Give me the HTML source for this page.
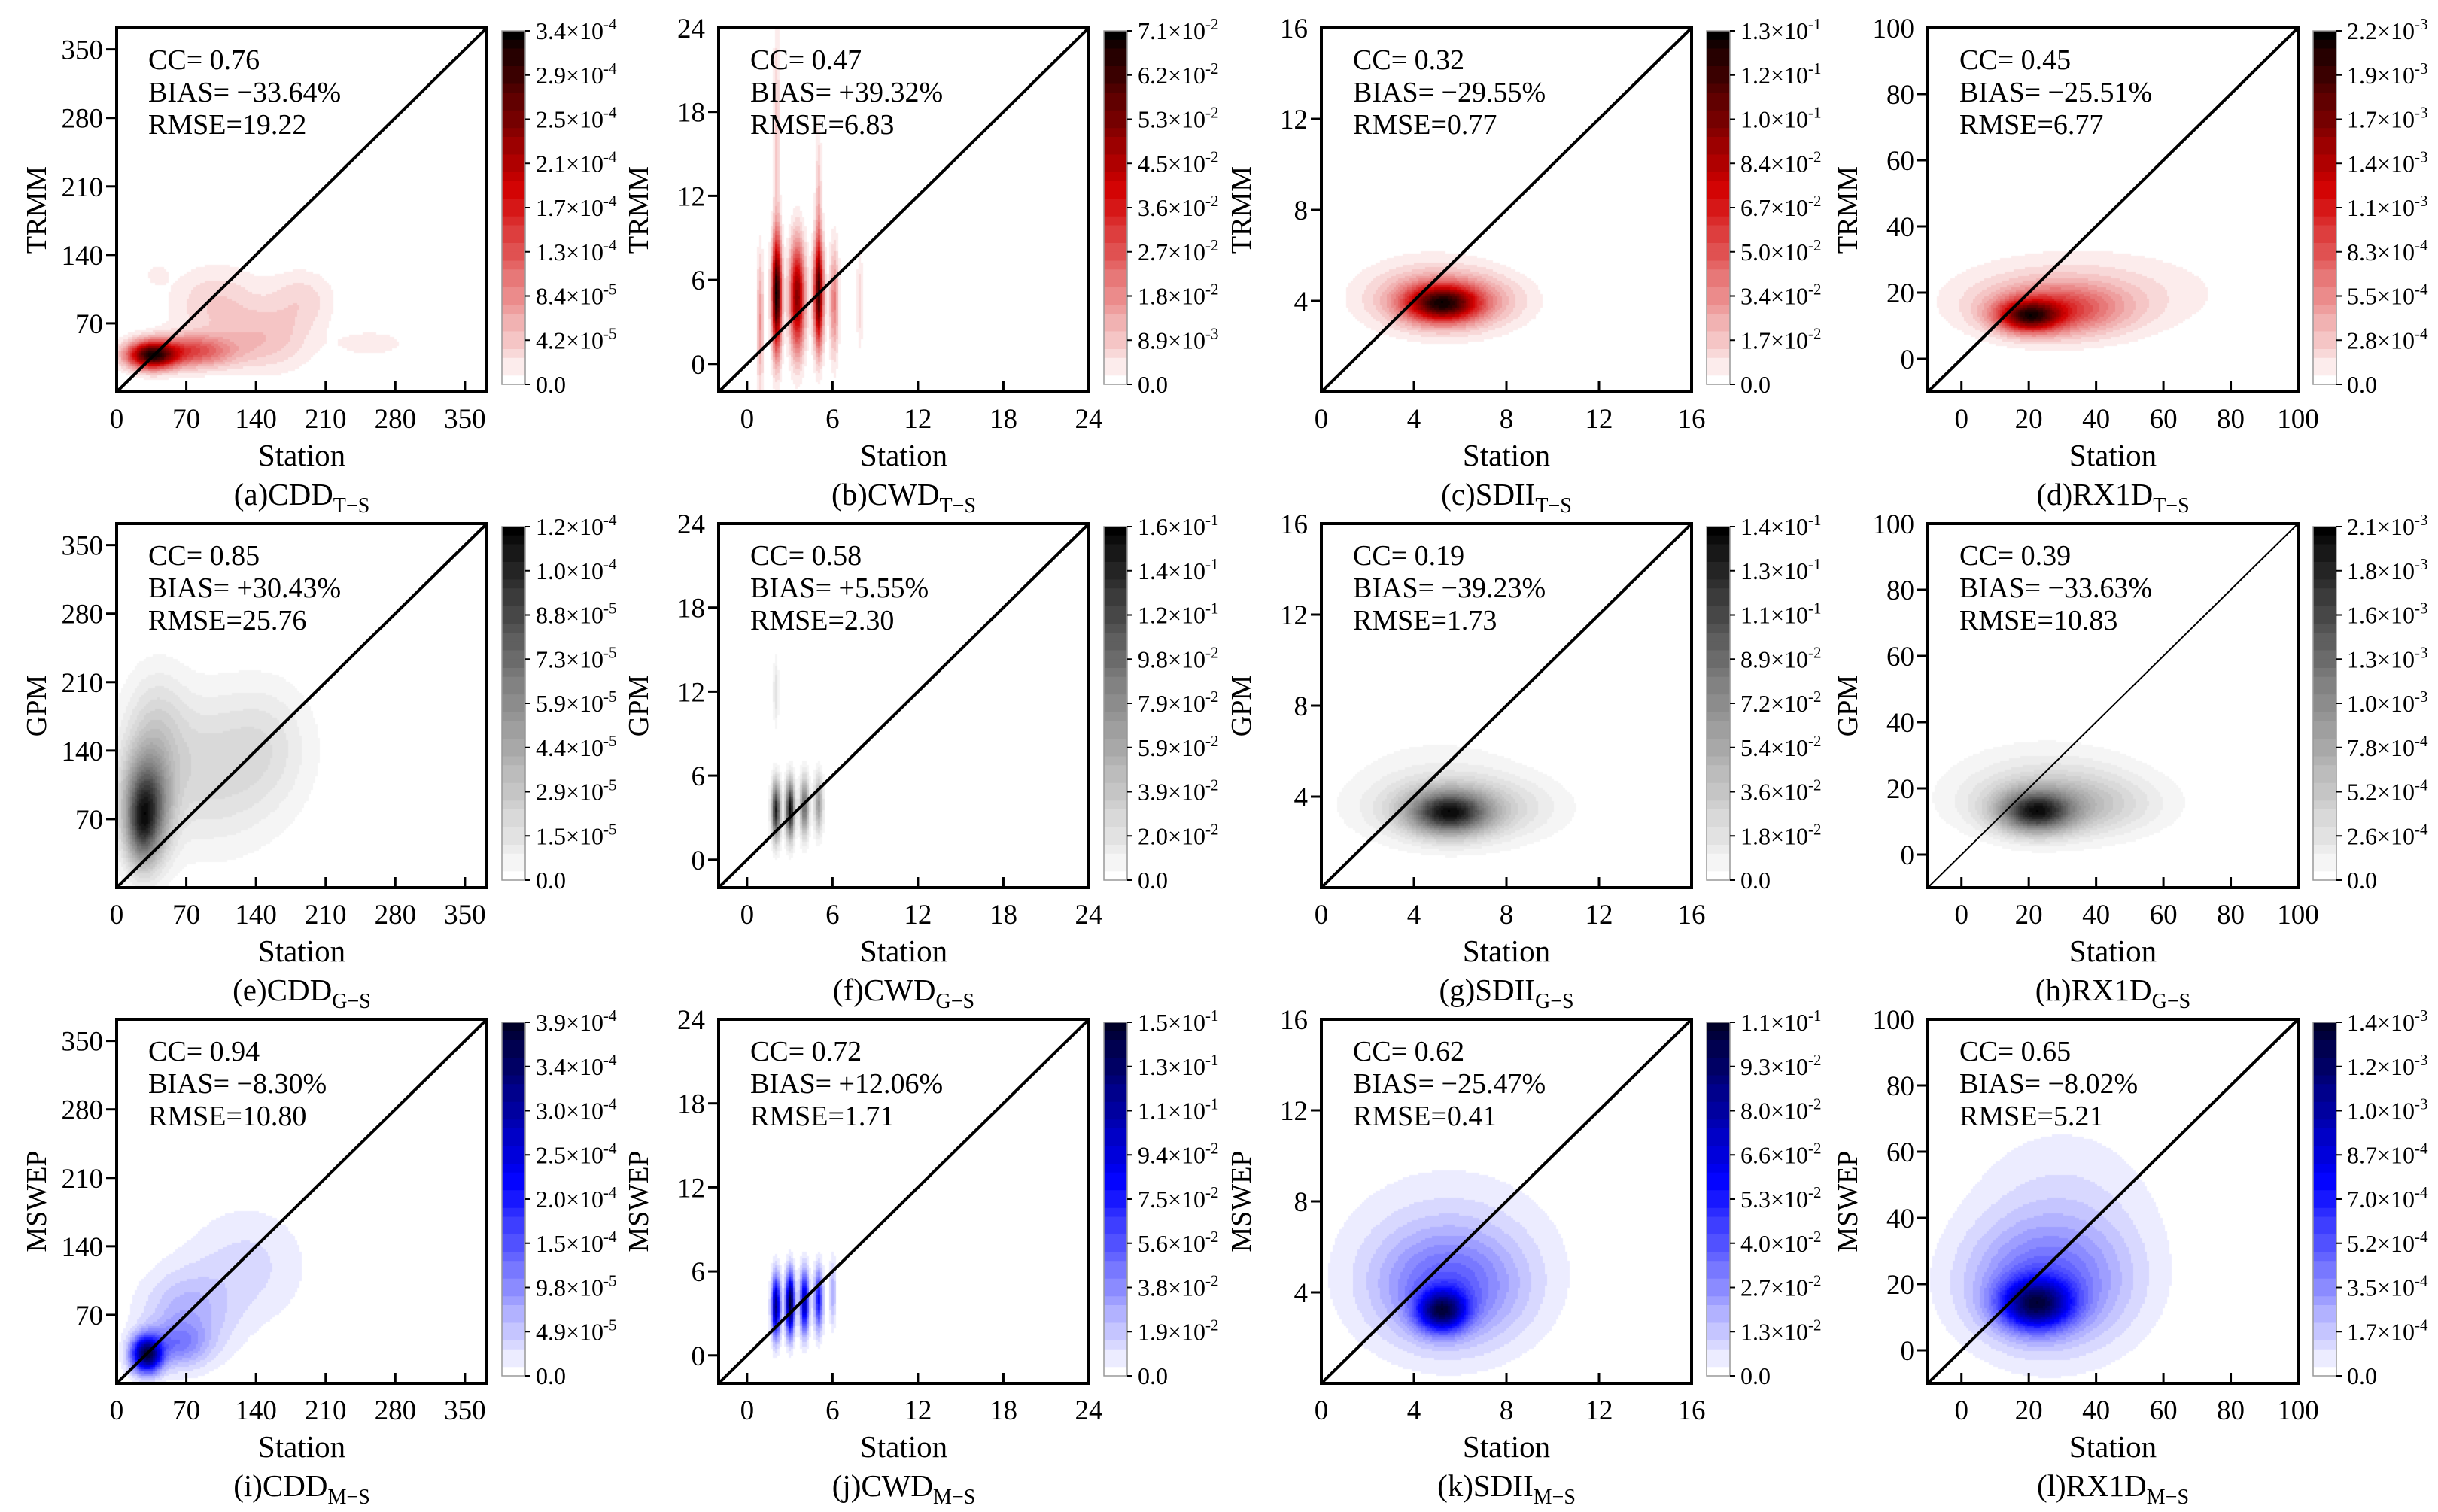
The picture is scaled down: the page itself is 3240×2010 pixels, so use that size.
<!DOCTYPE html>
<html><head><meta charset="utf-8">
<style>
html,body{margin:0;padding:0;background:#fff;}
#wrap{position:relative;width:3240px;height:2010px;overflow:hidden;font-family:"Liberation Serif",serif;}
canvas{position:absolute;}
svg{position:absolute;left:0;top:0;}
</style></head>
<body>
<div id="wrap">
<svg id="svg" width="3240" height="2010"></svg>
</div>
<script>
// ---- data arrays ----
const panelLetters = ["a","b","c","d","e","f","g","h","i","j","k","l"];
const panelIndex = ["CDD","CWD","SDII","RX1D","CDD","CWD","SDII","RX1D","CDD","CWD","SDII","RX1D"];
const panelSub = ["T−S","T−S","T−S","T−S","G−S","G−S","G−S","G−S","M−S","M−S","M−S","M−S"];
const panelYTitle = ["TRMM","TRMM","TRMM","TRMM","GPM","GPM","GPM","GPM","MSWEP","MSWEP","MSWEP","MSWEP"];
const statCC = ["0.76","0.47","0.32","0.45","0.85","0.58","0.19","0.39","0.94","0.72","0.62","0.65"];
const statBIAS = ["−33.64%","+39.32%","−29.55%","−25.51%","+30.43%","+5.55%","−39.23%","−33.63%","−8.30%","+12.06%","−25.47%","−8.02%"];
const statRMSE = ["19.22","6.83","0.77","6.77","25.76","2.30","1.73","10.83","10.80","1.71","0.41","5.21"];
const cddTicks = [0,70,140,210,280,350];
const cwdTicks = [0,6,12,18,24];
const sdiiTicks = [0,4,8,12,16];
const rx1dTicks = [0,20,40,60,80,100];
const cddRange = [0,372];
const cwdRange = [-2,24];
const sdiiRange = [0,16];
const rx1dRange = [-10,100];
// colorbar labels "mantissa|exponent"
const cbLabels = [
 ["3.4|-4","2.9|-4","2.5|-4","2.1|-4","1.7|-4","1.3|-4","8.4|-5","4.2|-5","0.0"],
 ["7.1|-2","6.2|-2","5.3|-2","4.5|-2","3.6|-2","2.7|-2","1.8|-2","8.9|-3","0.0"],
 ["1.3|-1","1.2|-1","1.0|-1","8.4|-2","6.7|-2","5.0|-2","3.4|-2","1.7|-2","0.0"],
 ["2.2|-3","1.9|-3","1.7|-3","1.4|-3","1.1|-3","8.3|-4","5.5|-4","2.8|-4","0.0"],
 ["1.2|-4","1.0|-4","8.8|-5","7.3|-5","5.9|-5","4.4|-5","2.9|-5","1.5|-5","0.0"],
 ["1.6|-1","1.4|-1","1.2|-1","9.8|-2","7.9|-2","5.9|-2","3.9|-2","2.0|-2","0.0"],
 ["1.4|-1","1.3|-1","1.1|-1","8.9|-2","7.2|-2","5.4|-2","3.6|-2","1.8|-2","0.0"],
 ["2.1|-3","1.8|-3","1.6|-3","1.3|-3","1.0|-3","7.8|-4","5.2|-4","2.6|-4","0.0"],
 ["3.9|-4","3.4|-4","3.0|-4","2.5|-4","2.0|-4","1.5|-4","9.8|-5","4.9|-5","0.0"],
 ["1.5|-1","1.3|-1","1.1|-1","9.4|-2","7.5|-2","5.6|-2","3.8|-2","1.9|-2","0.0"],
 ["1.1|-1","9.3|-2","8.0|-2","6.6|-2","5.3|-2","4.0|-2","2.7|-2","1.3|-2","0.0"],
 ["1.4|-3","1.2|-3","1.0|-3","8.7|-4","7.0|-4","5.2|-4","3.5|-4","1.7|-4","0.0"]];
// density blobs: [cx, cy, sx, sy, weight]
const blobsA = [[35,38,16,9,1],[75,42,28,11,.4],[150,55,30,22,.12],[185,95,22,20,.08],[255,50,22,8,.06],[100,90,30,25,.1],[40,120,8,8,.04]];
const blobsB = [[0.9,3,0.15,3,.2],[2.05,5,0.22,2.6,1],[2.05,16,0.15,6,.1],[3.5,4.8,0.35,2.5,.7],[5,5,0.22,2.4,.85],[5,10,0.15,4,.15],[6.1,4.5,0.2,2.5,.25],[7.9,4.5,0.15,2.2,.08]];
const blobsC = [[5.2,3.9,1.0,0.5,1],[5.5,4.0,1.8,0.8,.4],[4.5,4.5,2,1.1,.08]];
const blobsD = [[20,13,6,3,1],[28,15,13,5,.5],[35,20,24,8,.12]];
const blobsE = [[30,85,15,35,1],[25,60,10,25,.5],[90,120,50,50,.2],[150,150,30,40,.1],[40,160,20,40,.18]];
const blobsF = [[2,3.5,0.2,1.3,.9],[3,3.6,0.2,1.3,1],[4,3.8,0.2,1.3,.6],[5,4,0.2,1.3,.4],[2,12,0.12,1.5,.12]];
const blobsG = [[5.5,3.3,1.1,0.6,1],[6,3.5,2.3,0.9,.3],[5,4.5,2.5,1.5,.06]];
const blobsH = [[22,13,7,4,1],[30,15,16,6,.35],[25,22,18,8,.1]];
const blobsI = [[30,30,10,12,1],[70,70,30,30,.15],[130,120,40,40,.07],[60,40,20,15,.2]];
const blobsJ = [[2,3.5,0.2,1.4,.8],[3,3.7,0.2,1.4,1],[4,3.8,0.2,1.4,.7],[5,4,0.2,1.4,.5],[6,4.5,0.15,1.5,.15]];
const blobsK = [[5.2,3.2,0.7,0.6,1],[5.5,4.2,2.0,1.6,.35],[5.5,5.5,3,2.5,.1]];
const blobsL = [[22,14,7,5,1],[25,20,15,12,.35],[30,35,18,20,.1]];
const allBlobs = [blobsA,blobsB,blobsC,blobsD,blobsE,blobsF,blobsG,blobsH,blobsI,blobsJ,blobsK,blobsL];
// ---- layout ----
const colLeft=[155,955,1756,2562], rowTop=[37,696,1355], BW=492, BH=484;
const ranges=[cddRange,cwdRange,sdiiRange,rx1dRange];
const ticks=[cddTicks,cwdTicks,sdiiTicks,rx1dTicks];
const cmaps=[[[255,255,255],[210,0,0],[0,0,0]],[[255,255,255],[128,128,128],[0,0,0]],[[255,255,255],[0,0,255],[0,0,40]]];
const NS="http://www.w3.org/2000/svg";
const svg=document.getElementById('svg');
const wrap=document.getElementById('wrap');
function mk(tag,attrs,parent){const e=document.createElementNS(NS,tag);for(const k in attrs)e.setAttribute(k,attrs[k]);(parent||svg).appendChild(e);return e;}
function cmap(row,t){const c=cmaps[row];let a,b,u;if(t<0.55){a=c[0];b=c[1];u=t/0.55;}else{a=c[1];b=c[2];u=(t-0.55)/0.45;}return a.map((v,i)=>Math.round(v+(b[i]-v)*u));}
for(let p=0;p<12;p++){
 const r=Math.floor(p/4), c=p%4, L=colLeft[c], T=rowTop[r];
 const rg=ranges[c];
 const sx=v=>L+(v-rg[0])/(rg[1]-rg[0])*BW;
 const sy=v=>T+BH-(v-rg[0])/(rg[1]-rg[0])*BH;
 const g=mk('g',{});
 
 
 const cv=document.createElement('canvas');
 cv.width=BW;cv.height=BH;cv.style.left=L+'px';cv.style.top=T+'px';
 
 
 wrap.insertBefore(cv,svg);
 const ctx=cv.getContext('2d');const img=ctx.createImageData(BW,BH);
 const bl=allBlobs[p];const step=3;const vals=[];let mx=0;
 for(let j=0;j<BH;j+=step)for(let i=0;i<BW;i+=step){
  const x=rg[0]+(i+1)/BW*(rg[1]-rg[0]), y=rg[0]+(BH-j-1)/BH*(rg[1]-rg[0]);
  let d=0;for(const b of bl){const dx=(x-b[0])/b[2],dy=(y-b[1])/b[3];d+=b[4]*Math.exp(-0.5*(dx*dx+dy*dy));}
  vals.push(d);if(d>mx)mx=d;}
 let k=0;
 for(let j=0;j<BH;j+=step)for(let i=0;i<BW;i+=step){
  let t=vals[k++]/mx;t=Math.pow(t,0.85);t=Math.floor(t*24)/24;const col=cmap(r,t);
  for(let jj=j;jj<Math.min(j+step,BH);jj++)for(let ii=i;ii<Math.min(i+step,BW);ii++){const o=(jj*BW+ii)*4;img.data[o]=col[0];img.data[o+1]=col[1];img.data[o+2]=col[2];img.data[o+3]=255;}}
 ctx.putImageData(img,0,0);
 const ln=mk('line',{x1:L,y1:T+BH,x2:L+BW,y2:T,stroke:'#000','stroke-width':(p==7?2:4)},g);
 
 
 const box=mk('rect',{x:L,y:T,width:BW,height:BH,fill:'none',stroke:'#000','stroke-width':4},g);
 
 
 for(const tv of ticks[c]){
  const X=sx(tv), Y=sy(tv);
  if(tv>rg[0]&&tv<rg[1]){mk('line',{x1:X,y1:T+BH,x2:X,y2:T+BH-14,stroke:'#000','stroke-width':3},g);}
  const xl=mk('text',{x:X,y:T+BH+48,'font-size':37,'text-anchor':'middle'},g);xl.textContent=tv;
  
  
  if(tv>rg[0]&&tv<rg[1]){mk('line',{x1:L,y1:Y,x2:L-14,y2:Y,stroke:'#000','stroke-width':3},g);}
  if(tv>rg[0]){const yl=mk('text',{x:L-18,y:Y+13,'font-size':37,'text-anchor':'end'},g);yl.textContent=tv;
  
  }
 }
 const xt=mk('text',{x:L+BW/2,y:T+BH+98,'font-size':41,'text-anchor':'middle'},g);xt.textContent='Station';
 
 
 const yt=mk('text',{x:0,y:0,'font-size':38,'text-anchor':'middle',transform:`translate(${L-94},${T+BH/2}) rotate(-90)`},g);yt.textContent=panelYTitle[p];
 
 
 const cap=mk('text',{x:L+BW/2,y:T+BH+150,'font-size':41,'text-anchor':'middle'},g);
 
 
 const s1=mk('tspan',{},cap);s1.textContent='('+panelLetters[p]+')'+panelIndex[p];
 const s2=mk('tspan',{'font-size':28,dy:10},cap);s2.textContent=panelSub[p];
 const st=[['CC= ',statCC[p]],['BIAS= ',statBIAS[p]],['RMSE=',statRMSE[p]]];
 st.forEach((s,i)=>{const t=mk('text',{x:L+42,y:T+55+i*43,'font-size':38},g);t.textContent=s[0]+s[1];
  
  });
 const cbx=L+512, cby=T+4, cbh=BH-14, cbw=31;
 const cg=mk('g',{},g);
 
 
 const nb=40;
 for(let q=0;q<nb;q++){const t=Math.floor((1-q/nb)*24)/24;const col=cmap(r,t);
  mk('rect',{x:cbx,y:cby+q*cbh/nb,width:cbw,height:cbh/nb+0.8,fill:`rgb(${col})`},cg);}
 mk('rect',{x:cbx,y:cby,width:cbw,height:cbh,fill:'none',stroke:'#999','stroke-width':1.5},cg);
 const labs=cbLabels[p];
 labs.forEach((lb,i)=>{const Y=cby+i*cbh/(labs.length-1);
  mk('line',{x1:cbx+cbw,y1:Y,x2:cbx+cbw+7,y2:Y,stroke:'#000','stroke-width':2},cg);
  const t=mk('text',{x:cbx+cbw+14,y:Y+11,'font-size':32},cg);
  
  
  const pr=lb.split('|');
  if(pr.length==1){t.textContent=pr[0];}
  else{const a=mk('tspan',{},t);a.textContent=pr[0]+'×10';const b=mk('tspan',{'font-size':21,dy:-13},t);b.textContent=pr[1];}
 });
}
</script>
</body></html>
